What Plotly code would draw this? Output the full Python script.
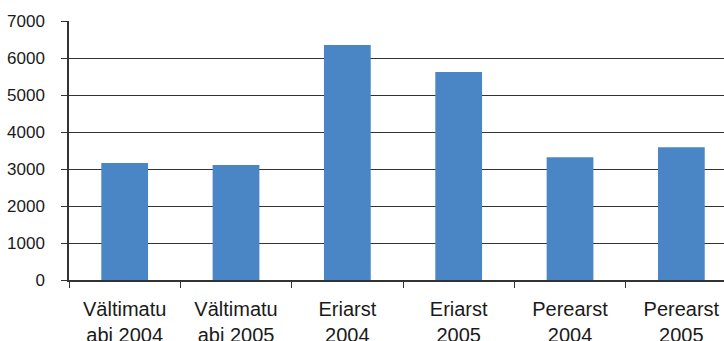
import plotly.graph_objects as go

categories = ["Vältimatu<br>abi 2004", "Vältimatu<br>abi 2005", "Eriarst<br>2004",
              "Eriarst<br>2005", "Perearst<br>2004", "Perearst<br>2005"]
values = [3160, 3110, 6350, 5620, 3320, 3590]
y_ticks = [0, 1000, 2000, 3000, 4000, 5000, 6000, 7000]

fig = go.Figure(go.Bar(x=categories, y=values, marker=dict(color="#4a86c6", line=dict(width=0)),
                       width=0.42))

fig.update_layout(
    width=724, height=341,
    margin=dict(l=69, r=0, t=21, b=61),
    paper_bgcolor="white", plot_bgcolor="white",
    showlegend=False,
    font=dict(family="Liberation Sans, Arial, sans-serif", color="#1a1a1a"),
)
fig.update_xaxes(
    type="category", range=[-0.5, 5.383], tickson="boundaries",
    ticks="outside", ticklen=6, tickcolor="#333", tickwidth=1,
    showline=True, linecolor="#333", linewidth=1.5,
    showgrid=False, tickfont=dict(size=20, color="#1a1a1a"), automargin=False,
    ticklabelstandoff=10,
)
fig.update_yaxes(
    range=[0, 7000], tickvals=y_ticks, ticks="outside", ticklen=6, tickcolor="#333",
    showline=True, linecolor="#333", linewidth=1.5,
    showgrid=True, gridcolor="#333", gridwidth=1, zeroline=False,
    tickfont=dict(size=17, color="#1a1a1a"), automargin=False,
    ticklabelstandoff=13,
)
fig.write_html("out.html")
